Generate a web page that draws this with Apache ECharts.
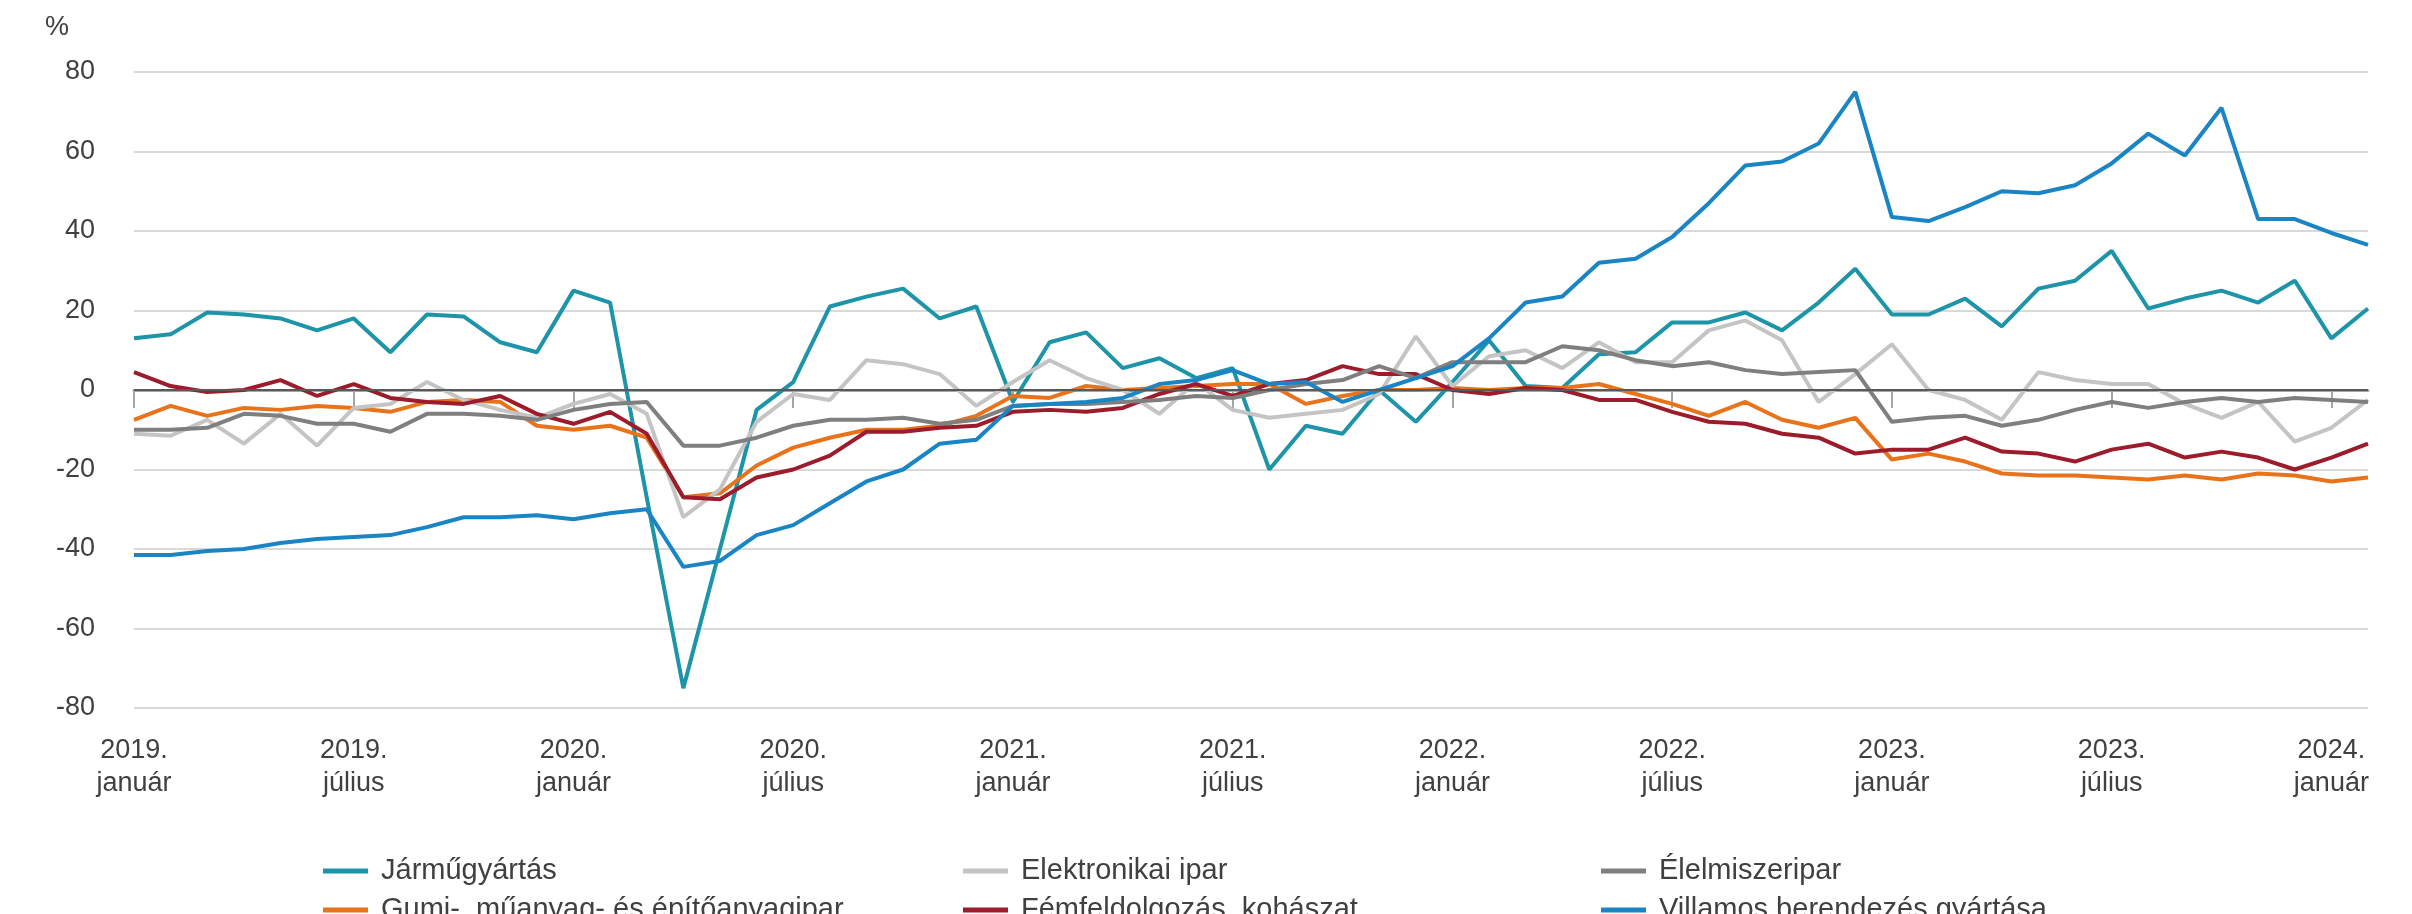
<!DOCTYPE html>
<html>
<head>
<meta charset="utf-8">
<title>Ágazatok termelése</title>
<script src="https://cdn.jsdelivr.net/npm/echarts/dist/echarts.min.js"></script>
<style>
  html, body { margin: 0; padding: 0; background: #fff; }
  #main { width: 2412px; height: 914px; }
</style>
</head>
<body>
<div id="main"></div>
<script>
// hónapok, 2019. január - 2024. február
const years = [2019, 2020, 2021, 2022, 2023, 2024]
const monthNames = ['január', 'február', 'március', 'április', 'május', 'június',
  'július', 'augusztus', 'szeptember', 'október', 'november', 'december']
const categories = []
years.forEach(y => {
  monthNames.forEach((m, i) => {
    if (y === 2024 && i > 1) return
    categories.push(y + '. ' + m)
  })
})

const yTicks = [-80, -60, -40, -20, 0, 20, 40, 60, 80]

const jarmu = [13, 14, 19.5, 19, 18, 15, 18, 9.5, 19, 18.5, 12, 9.5, 25, 22, -27, -75, -40, -5, 2, 21,
  23.5, 25.5, 18, 21, -3, 12, 14.5, 5.5, 8, 3, 5.5, -20, -9, -11, 0, -8, 2, 12.5, 1, 0.5,
  9, 9.5, 17, 17, 19.5, 15, 22, 30.5, 19, 19, 23, 16, 25.5, 27.5, 35, 20.5, 23, 25, 22, 27.5,
  13, 20.5]
const gumi = [-7.5, -4, -6.5, -4.5, -5, -4, -4.5, -5.5, -3, -2.5, -3, -9, -10, -9, -12, -27, -26, -19, -14.5, -12,
  -10, -10, -9, -6.5, -1.5, -2, 1, 0, 0.5, 1, 1.5, 1.5, -3.5, -1.5, 0, 0, 0.5, 0, 0.5, 0.5,
  1.5, -1, -3.5, -6.5, -3, -7.5, -9.5, -7, -17.5, -16, -18, -21, -21.5, -21.5, -22, -22.5, -21.5, -22.5, -21, -21.5,
  -23, -22]
const elektronikai = [-11, -11.5, -7.5, -13.5, -6, -14, -4.5, -3.5, 2, -2.5, -5, -7, -3.5, -1, -6, -32, -25, -8, -1, -2.5,
  7.5, 6.5, 4, -4, 2, 7.5, 3, 0, -6, 2, -5, -7, -6, -5, -1, 13.5, 1, 8.5, 10, 5.5,
  12, 7, 7, 15, 17.5, 12.5, -3, 4, 11.5, 0, -2.5, -7.5, 4.5, 2.5, 1.5, 1.5, -3.5, -7, -3, -13,
  -9.5, -2.5]
const fem = [4.5, 1, -0.5, 0, 2.5, -1.5, 1.5, -2, -3, -3.5, -1.5, -6, -8.5, -5.5, -11, -27, -27.5, -22, -20, -16.5,
  -10.5, -10.5, -9.5, -9, -5.5, -5, -5.5, -4.5, -1, 1.5, -1.5, 1.5, 2.5, 6, 4, 4, 0, -1, 0.5, 0,
  -2.5, -2.5, -5.5, -8, -8.5, -11, -12, -16, -15, -15, -12, -15.5, -16, -18, -15, -13.5, -17, -15.5, -17, -20,
  -17, -13.5]
const elelmiszer = [-10, -10, -9.5, -6, -6.5, -8.5, -8.5, -10.5, -6, -6, -6.5, -7.5, -5, -3.5, -3, -14, -14, -12, -9, -7.5,
  -7.5, -7, -8.5, -7.5, -4, -3.5, -3.5, -3, -2.5, -1.5, -2, 0, 1.5, 2.5, 6, 3, 7, 7, 7, 11,
  10, 7.5, 6, 7, 5, 4, 4.5, 5, -8, -7, -6.5, -9, -7.5, -5, -3, -4.5, -3, -2, -3, -2,
  -2.5, -3]
const villamos = [-41.5, -41.5, -40.5, -40, -38.5, -37.5, -37, -36.5, -34.5, -32, -32, -31.5, -32.5, -31, -30, -44.5, -43, -36.5, -34, -28.5,
  -23, -20, -13.5, -12.5, -4, -3.5, -3, -2, 1.5, 2.5, 5, 1.5, 2, -3, 0, 3, 6, 13, 22, 23.5,
  32, 33, 38.5, 47, 56.5, 57.5, 62, 75, 43.5, 42.5, 46, 50, 49.5, 51.5, 57, 64.5, 59, 71, 43, 43,
  39.5, 36.5]

const font = 'Liberation Sans, Arial, sans-serif'
const txt = '#404040'

function line (name, data, color) {
  return {
    name: name,
    type: 'line',
    data: data,
    showSymbol: false,
    symbol: 'none',
    lineStyle: { color: color, width: 4 },
    itemStyle: { color: color }
  }
}

// egy jelmagyarázat-elem, hogy a 3x2-es rács pontosan a helyén legyen
function legendItem (left, top, name) {
  return {
    left: left,
    top: top,
    itemWidth: 45,
    itemHeight: 5,
    icon: 'rect',
    data: [name],
    textStyle: { fontFamily: font, fontSize: 29, lineHeight: 32, color: txt, padding: [0, 0, 0, 8] }
  }
}

let myChart = echarts.init(document.getElementById('main'))
myChart.setOption({
  animation: false,
  backgroundColor: '#fff',
  title: {
    text: '%',
    left: 40,
    top: 9,
    textStyle: { fontFamily: font, fontSize: 27, fontWeight: 'normal', color: txt }
  },
  grid: { left: 134, right: 44, top: 72, bottom: 206 },
  legend: [
    legendItem(318, 850, 'Járműgyártás'),
    legendItem(958, 850, 'Elektronikai ipar'),
    legendItem(1596, 850, 'Élelmiszeripar'),
    legendItem(318, 889, 'Gumi-, műanyag- és építőanyagipar'),
    legendItem(958, 889, 'Fémfeldolgozás, kohászat'),
    legendItem(1596, 889, 'Villamos berendezés gyártása')
  ],
  xAxis: {
    type: 'category',
    boundaryGap: false,
    data: categories,
    axisLine: { lineStyle: { color: '#a6a6a6', width: 3 } },
    axisTick: {
      show: true,
      length: 18,
      interval: (idx) => idx % 6 === 0,
      lineStyle: { color: '#a6a6a6', width: 2 }
    },
    axisLabel: {
      interval: (idx) => idx % 6 === 0,
      margin: 26,
      fontFamily: font,
      fontSize: 27,
      lineHeight: 33,
      color: txt,
      formatter: (v) => v.replace('. ', '.\n')
    },
    splitLine: { show: false }
  },
  yAxis: {
    type: 'value',
    min: yTicks[0],
    max: yTicks[yTicks.length - 1],
    interval: 20,
    axisLine: { show: false },
    axisTick: { show: false },
    axisLabel: { margin: 39, fontFamily: font, fontSize: 27, color: txt },
    splitLine: { lineStyle: { color: '#d9d9d9', width: 2 } }
  },
  series: [
    Object.assign(line('Járműgyártás', jarmu, '#1d94a8'), {
      markLine: {
        silent: true,
        symbol: ['none', 'none'],
        label: { show: false },
        lineStyle: { color: '#595959', width: 2, type: 'solid' },
        data: [{ yAxis: 0 }]
      }
    }),
    line('Gumi-, műanyag- és építőanyagipar', gumi, '#e8731b'),
    line('Elektronikai ipar', elektronikai, '#c4c4c4'),
    line('Fémfeldolgozás, kohászat', fem, '#9c1c2c'),
    line('Élelmiszeripar', elelmiszer, '#7f7f7f'),
    line('Villamos berendezés gyártása', villamos, '#1a85c5')
  ]
})
</script>
</body>
</html>
